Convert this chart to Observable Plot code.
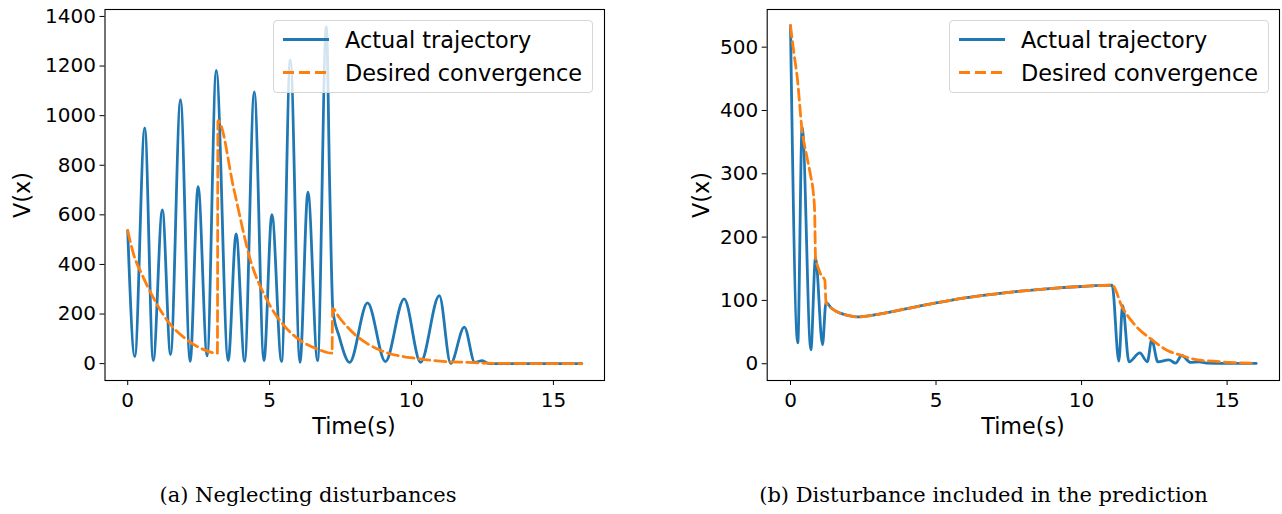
<!DOCTYPE html>
<html><head><meta charset="utf-8">
<script src="https://cdn.jsdelivr.net/npm/d3@7"></script>
<script src="https://cdn.jsdelivr.net/npm/@observablehq/plot@0.6"></script>
<style>
body{margin:0;background:#fff;}
#wrap{position:relative;width:1282px;height:514px;overflow:hidden;font-family:"DejaVu Sans";}
.panel{position:absolute;top:0;}
.lbl{position:absolute;font-size:22.3px;color:#000;white-space:nowrap;line-height:1;}
.legend{position:absolute;border:1px solid #d6d6d6;border-radius:4px;background:rgba(255,255,255,0.8);box-sizing:border-box;}
.legend .txt{position:absolute;left:71px;font-size:22.4px;line-height:1;white-space:nowrap;transform:translateY(-50%);}
.legend svg{position:absolute;left:0;top:0;}
.cap{position:absolute;font-family:"DejaVu Serif";font-size:21px;line-height:1;white-space:nowrap;transform:translate(-50%,-50%);}
</style></head>
<body><div id="wrap"></div>
<script>
// ---- data ----
const xTicks = [0, 5, 10, 15];
const leftYTicks = [0, 200, 400, 600, 800, 1000, 1200, 1400];
const rightYTicks = [0, 100, 200, 300, 400, 500];
const seriesNames = ["Actual trajectory", "Desired convergence"];
const captions = ["(a) Neglecting disturbances", "(b) Disturbance included in the prediction"];

const leftActualT = [0, 0.25, 0.60, 0.90, 1.22, 1.51, 1.86, 2.20, 2.48, 2.80, 3.12, 3.54, 3.82, 4.12, 4.46, 4.80, 5.08, 5.42, 5.73, 6.07, 6.35, 6.69, 7.00, 7.12, 7.23, 7.45, 7.82, 8.45, 9.08, 9.74, 10.32, 10.98, 11.38, 11.86, 12.23, 12.49, 12.73, 16];
const leftActualV = [536, 28, 951, 12, 620, 36, 1064, 9, 714, 31, 1182, 12, 523, 9, 1096, 12, 601, 9, 1225, 5, 691, 12, 1359, 700, 215, 110, 5, 245, 8, 261, 5, 274, 1, 147, 5, 12, 0, 0];

const leftDesiredT = [0, 0.21, 0.5, 0.86, 1.4, 1.98, 2.57, 3.16, 3.18, 3.75, 4.33, 4.92, 5.51, 6.09, 6.68, 7.2, 7.22, 7.46, 8.0, 8.9, 10.3, 11.0, 12.0, 12.6, 14, 16];
const leftDesiredV = [536, 440, 360, 275, 173, 106, 62, 42, 980, 698, 415, 254, 153, 93, 59, 42, 222, 185, 118, 54, 19, 10, 5, 2, 0.5, 0];

const rightActualT = [0, 0.25, 0.40, 0.70, 0.86, 1.10, 1.22, 1.4, 1.6, 2.0, 2.3, 3, 4, 5, 6, 7, 8, 9, 10, 11.05, 11.28, 11.41, 11.63, 12.0, 12.26, 12.41, 12.62, 13.0, 13.23, 13.44, 13.75, 14.03, 14.3, 15, 16];
const rightActualV = [534, 33, 374, 22, 168, 30, 97, 88, 82, 76, 74, 78, 87, 96, 104, 110, 115, 119, 122, 124, 4, 92, 3, 17, 3, 38, 3, 6, 1, 13, 2, 3, 1, 0.5, 0.5];

const rightDesiredT = [0, 0.12, 0.23, 0.4, 0.55, 0.7, 0.78, 0.83, 0.86, 0.95, 1.05, 1.18, 1.22, 1.4, 1.6, 2.0, 2.3, 3, 4, 5, 6, 7, 8, 9, 10, 11.05, 11.4, 11.8, 12.41, 12.95, 13.44, 13.98, 14.55, 15.1, 16];
const rightDesiredV = [534, 490, 453, 368, 330, 295, 272, 240, 168, 152, 140, 132, 97, 88, 82, 76, 74, 78, 87, 96, 104, 110, 115, 119, 122, 124, 89, 63, 38, 21, 13, 6, 4, 2, 1];

const BLUE = "#1f77b4", ORANGE = "#ff7f0e";
const zip = (T, V) => T.map((t, i) => ({t, v: V[i]}));

function panel({actual, desired, yDomain, yTicks, marginLeft, marginRight}) {
  return Plot.plot({
    width: 641, height: 440,
    marginLeft, marginRight, marginTop: 9, marginBottom: 60,
    style: {fontFamily: "DejaVu Sans", fontSize: "20px", color: "#000", background: "transparent", overflow: "visible"},
    x: {domain: [-0.8, 16.8], ticks: xTicks, tickFormat: "d", tickSize: 5, tickPadding: 7, label: null},
    y: {domain: yDomain, ticks: yTicks, tickFormat: "d", tickSize: 5, tickPadding: 4, label: null},
    marks: [
      Plot.line(actual, {x: "t", y: "v", stroke: BLUE, strokeWidth: 2.8, curve: "monotone-x"}),
      Plot.line(desired, {x: "t", y: "v", stroke: ORANGE, strokeWidth: 2.8, strokeDasharray: "11,5", curve: "monotone-x"}),
      Plot.frame({stroke: "#000", strokeWidth: 1.1})
    ]
  });
}

const wrap = document.getElementById("wrap");

const left = panel({actual: zip(leftActualT, leftActualV), desired: zip(leftDesiredT, leftDesiredV),
  yDomain: [-68, 1428], yTicks: leftYTicks, marginLeft: 104.5, marginRight: 37});
left.classList.add("panel"); left.style.left = "0px";
wrap.appendChild(left);

const right = panel({actual: zip(rightActualT, rightActualV), desired: zip(rightDesiredT, rightDesiredV),
  yDomain: [-26.5, 559.5], yTicks: rightYTicks, marginLeft: 125.7, marginRight: 3});
right.classList.add("panel"); right.style.left = "641px";
wrap.appendChild(right);

function addLabel(text, x, y, rotate) {
  const d = document.createElement("div");
  d.className = "lbl"; d.textContent = text;
  d.style.left = x + "px"; d.style.top = y + "px";
  d.style.transform = "translate(-50%,-50%)" + (rotate ? " rotate(-90deg)" : "");
  wrap.appendChild(d);
}
addLabel("Time(s)", 354, 426, false);
addLabel("Time(s)", 1023, 426, false);
addLabel("V(x)", 22, 195, true);
addLabel("V(x)", 701, 195, true);

function addLegend(x) {
  const box = document.createElement("div");
  box.className = "legend";
  box.style.left = x + "px"; box.style.top = "20px";
  box.style.width = "320px"; box.style.height = "73px";
  box.innerHTML = `<svg width="320" height="73">
    <line x1="9" x2="55" y1="18.5" y2="18.5" stroke="${BLUE}" stroke-width="2.8"/>
    <line x1="9" x2="55" y1="51.5" y2="51.5" stroke="${ORANGE}" stroke-width="2.8" stroke-dasharray="11,5"/>
  </svg>`;
  seriesNames.forEach((n, i) => {
    const t = document.createElement("div");
    t.className = "txt"; t.textContent = n;
    t.style.top = (i === 0 ? 18.5 : 51.5) + "px";
    box.appendChild(t);
  });
  wrap.appendChild(box);
}
addLegend(273);
addLegend(949);

function addCaption(text, x, y) {
  const d = document.createElement("div");
  d.className = "cap"; d.textContent = text;
  d.style.left = x + "px"; d.style.top = y + "px";
  wrap.appendChild(d);
}
addCaption(captions[0], 308, 495);
addCaption(captions[1], 983.5, 495);
</script>
</body></html>
